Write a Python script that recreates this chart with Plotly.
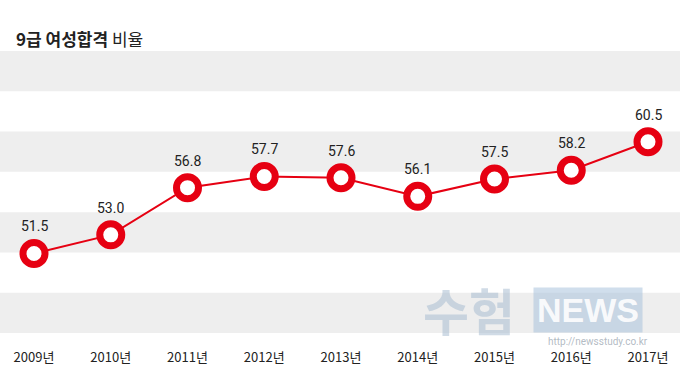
import plotly.graph_objects as go

years = ["2009년", "2010년", "2011년", "2012년", "2013년", "2014년", "2015년", "2016년", "2017년"]
ratio = [51.5, 53.0, 56.8, 57.7, 57.6, 56.1, 57.5, 58.2, 60.5]
ratio_labels = ["51.5", "53.0", "56.8", "57.7", "57.6", "56.1", "57.5", "58.2", "60.5"]

RED = "#e60012"
FONT = "Noto Sans CJK KR"

fig = go.Figure()
fig.add_trace(go.Scatter(
    x=list(range(len(years))), y=ratio,
    mode="lines+markers",
    line=dict(color=RED, width=2),
    marker=dict(size=22, color="white", line=dict(color=RED, width=7)),
    cliponaxis=False, hoverinfo="skip",
))

# value labels above the points
annotations = [
    dict(x=i, y=v, text=t, xref="x", yref="y", showarrow=False,
         yanchor="bottom", yshift=17,
         font=dict(family="Roboto", size=14, color="#222222"))
    for i, (v, t) in enumerate(zip(ratio, ratio_labels))
]

# alternating background bands
shapes = []
for k in range(7):
    if k % 2 == 0:
        shapes.append(dict(type="rect", xref="paper", yref="paper",
                           x0=0, x1=1, y0=1 - (k + 1) / 7, y1=1 - k / 7,
                           fillcolor="#eeeeee", line=dict(width=0), layer="below"))

annotations += [
    dict(text="<b>9급 여성합격</b> 비율", xref="paper", yref="paper",
         x=0.02, y=1, yshift=13, xanchor="left", yanchor="middle", showarrow=False,
         font=dict(family=FONT, size=17, color="#222222")),
    dict(text="<b>수험</b>", xref="paper", yref="paper", x=0.69, y=-0.05,
         xanchor="center", yanchor="bottom", showarrow=False,
         font=dict(family=FONT, size=50, color="rgba(170,190,210,0.55)")),
    dict(text="<b>NEWS</b>", xref="paper", yref="paper", x=0.865, y=0.0,
         xanchor="center", yanchor="bottom", showarrow=False,
         bgcolor="rgba(170,195,220,0.55)", borderpad=3,
         font=dict(family="Liberation Sans", size=34, color="rgba(255,255,255,0.9)")),
    dict(text="http://newsstudy.co.kr", xref="paper", yref="paper", x=0.88, y=-0.005,
         xanchor="center", yanchor="top", showarrow=False,
         font=dict(family="Roboto", size=10, color="rgba(160,170,180,0.8)")),
]

fig.update_layout(
    width=680, height=377,
    margin=dict(l=0, r=0, t=51, b=44),
    paper_bgcolor="white", plot_bgcolor="white",
    showlegend=False, shapes=shapes, annotations=annotations,
    xaxis=dict(range=[-0.443, 8.417], tickmode="array",
               tickvals=list(range(len(years))), ticktext=years,
               showgrid=False, zeroline=False, showline=False,
               ticks="outside", ticklen=12, tickcolor="rgba(0,0,0,0)",
               tickfont=dict(family=FONT, size=13, color="#222222")),
    yaxis=dict(range=[45.1, 67.8], showgrid=False, zeroline=False,
               showticklabels=False, showline=False),
)

fig.write_html("out.html", config={"displayModeBar": False},
               post_script="document.body.style.margin='0';")
